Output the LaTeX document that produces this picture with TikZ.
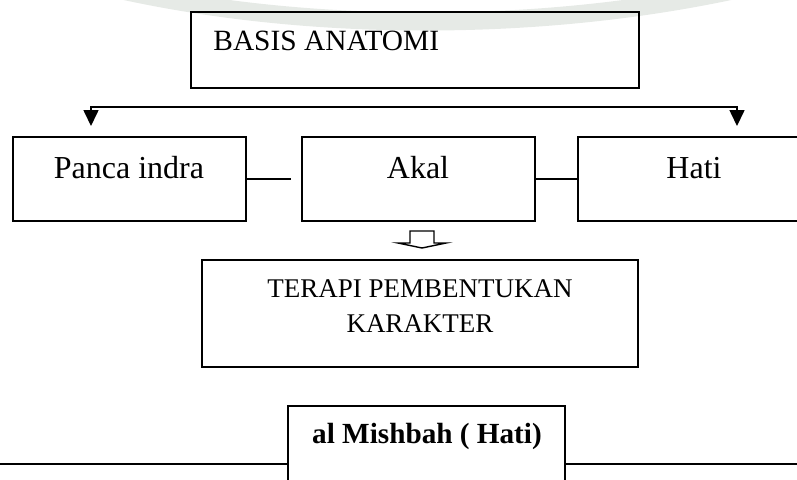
\documentclass[tikz,border=0pt]{standalone}
\usepackage{fontspec}
\setmainfont{Liberation Serif}
\usetikzlibrary{arrows.meta,positioning,fit}
\definecolor{wmgray}{RGB}{230,234,230}
\tikzset{
  box/.style={draw=black, line width=0.9pt, inner sep=0pt},
  capt/.style={font=\fontsize{13.5}{17.5}\selectfont, inner sep=0pt},
  bigcapt/.style={font=\fontsize{14.7}{17.5}\selectfont, inner sep=0pt},
  lbl/.style={font=\fontsize{16}{19}\selectfont, inner sep=0pt},
  bld/.style={font=\fontsize{14.6}{17}\selectfont\bfseries, inner sep=0pt},
  brk/.style={{Triangle[length=8pt,width=7.5pt]}-{Triangle[length=8pt,width=7.5pt]}, line width=0.8pt},
  lnk/.style={line width=0.8pt},
  rulel/.style={line width=1.4pt},
  wm/.style={wmgray, line width=9pt},
}

\begin{document}
\begin{tikzpicture}[x=0.5pt, y=-0.5pt]
  \useasboundingbox (0,0) rectangle (797,479);
  \draw[wm] (120,-10) .. controls (310,32) and (540,32) .. (735,-10);
  % top box
  \node[box, fit={(191,12) (639,88)}] (basis) {};
  \node[bigcapt, anchor=base west] (basis-t) at (213,50) {BASIS ANATOMI};
  % branch to the three boxes
  \coordinate (tipL) at (91,126);
  \coordinate (brL) at (91,107);
  \coordinate (brR) at (737,107);
  \coordinate (tipR) at (737,126);
  \draw[brk] (tipL) -- (brL) -- (brR) -- (tipR);
  \node[box, fit={(13,137) (246,221)}] (panca) {};
  \node[box, fit={(302,137) (535,221)}] (akal) {};
  \node[box, fit={(578,137) (810,221)}] (hati) {};
  \node[lbl, anchor=base] (panca-t) at (129,178) {Panca indra};
  \node[lbl, anchor=base] (akal-t) at (418,178) {Akal};
  \node[lbl, anchor=base] (hati-t) at (694,178) {Hati};
  \coordinate (gapA) at (291,179);
  \draw[lnk] (panca.east) -- (gapA);
  \draw[lnk] (akal.east) -- (hati.west);
  % hollow arrow
  \draw[line width=0.7pt] (410,243) -- (410,231) -- (434,231) -- (434,243)
    -- (446,243) -- (422,248) -- (398,243) -- cycle;
  \node[box, fit={(202,260) (638,367)}] (terapi) {};
  \node[capt, anchor=base] (terapi-t1) at (420,297) {TERAPI PEMBENTUKAN};
  \node[capt, anchor=base] (terapi-t2) at (420,332) {KARAKTER};
  % bottom
  \node[box, fit={(288,406) (565,522)}] (misb) {};
  \node[bld, anchor=base] (misb-t) at (427,443) {al Mishbah ( Hati)};
  \coordinate (ruleL) at (-5,464);
  \coordinate (ruleR) at (805,464);
  \draw[rulel] (ruleL) -- (misb.west);
  \draw[rulel] (misb.east) -- (ruleR);
\end{tikzpicture}
\end{document}
